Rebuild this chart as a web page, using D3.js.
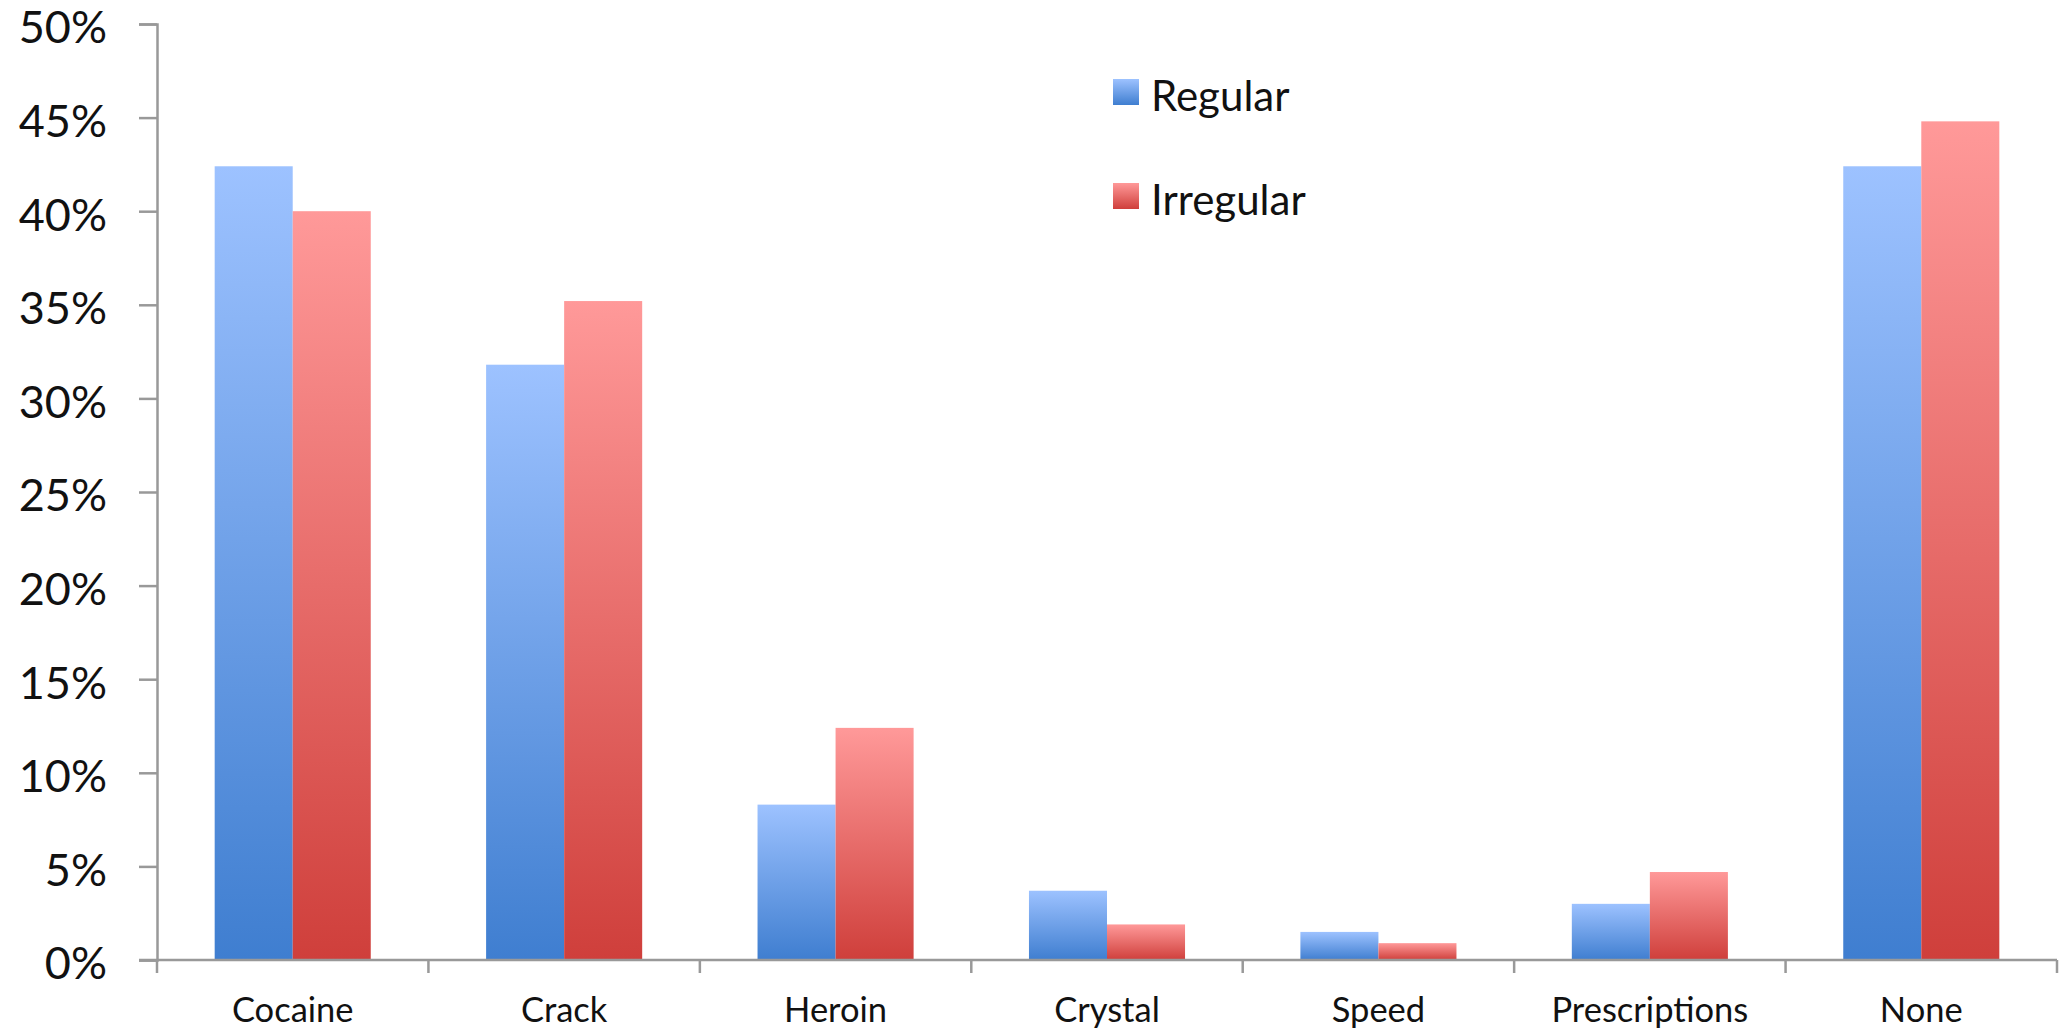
<!DOCTYPE html>
<html>
<head>
<meta charset="utf-8">
<script src="https://cdn.jsdelivr.net/npm/d3@7"></script>
<style>
  html, body { margin: 0; padding: 0; background: #ffffff; }
  svg { display: block; }
  text { font-family: Lato, "Open Sans", sans-serif; fill: #111; }
</style>
</head>
<body>
<svg id="chart" width="2061" height="1029"></svg>
<script>
const categories = ["Cocaine", "Crack", "Heroin", "Crystal", "Speed", "Prescriptions", "None"];
const seriesNames = ["Regular", "Irregular"];
const regular = [42.4, 31.8, 8.3, 3.7, 1.5, 3.0, 42.4];
const irregular = [40.0, 35.2, 12.4, 1.9, 0.9, 4.7, 44.8];
const yTicks = [0, 5, 10, 15, 20, 25, 30, 35, 40, 45, 50];

const svg = d3.select("#chart");
const margin = { left: 157, right: 2057, top: 24, bottom: 960 };

const x = d3.scaleBand().domain(categories).range([margin.left, margin.right])
  .paddingInner(0.425).paddingOuter(0.2125);
const xSub = d3.scaleBand().domain(seriesNames).range([0, x.bandwidth()]);
const y = d3.scaleLinear().domain([0, 50]).range([margin.bottom, margin.top]);

const defs = svg.append("defs");
const grads = {
  Regular: ["#9dc2ff", "#3f7ed0"],
  Irregular: ["#ff9999", "#cf3f3b"]
};
Object.entries(grads).forEach(([name, c]) => {
  const g = defs.append("linearGradient").attr("id", "g-" + name)
    .attr("x1", 0).attr("y1", 0).attr("x2", 0).attr("y2", 1);
  g.append("stop").attr("offset", "0%").attr("stop-color", c[0]);
  g.append("stop").attr("offset", "100%").attr("stop-color", c[1]);
});

const data = categories.map((c, i) => ({ cat: c, vals: [
  { s: "Regular", v: regular[i] }, { s: "Irregular", v: irregular[i] }
]}));

// bars
const groups = svg.append("g").selectAll("g").data(data).join("g")
  .attr("transform", d => `translate(${x(d.cat)},0)`);
groups.selectAll("rect").data(d => d.vals).join("rect")
  .attr("x", d => xSub(d.s))
  .attr("width", xSub.bandwidth())
  .attr("y", d => y(d.v))
  .attr("height", d => y(0) - y(d.v))
  .attr("fill", d => `url(#g-${d.s})`);

// y axis
const yAxis = d3.axisLeft(y).tickValues(yTicks).tickFormat(d => d + "%").tickSize(18).tickPadding(32);
const yg = svg.append("g").attr("transform", `translate(${margin.left},0)`).call(yAxis);
yg.select(".domain").attr("stroke", "#999").attr("stroke-width", 2.5);
yg.selectAll(".tick line").attr("stroke", "#999").attr("stroke-width", 2.5);
yg.selectAll(".tick text").attr("font-size", 45).attr("dy", "0.42em")
  .style("font-family", "Lato, 'Open Sans', sans-serif").attr("fill", "#111");

// x axis
const xg = svg.append("g").attr("transform", `translate(0,${margin.bottom})`);
xg.append("line").attr("x1", margin.left - 18).attr("x2", margin.right)
  .attr("y1", 0).attr("y2", 0).attr("stroke", "#999").attr("stroke-width", 2.5);
const bounds = categories.map(c => x(c) - x.step() * x.paddingInner() / 2);
bounds.push(margin.right);
xg.selectAll("line.xt").data(bounds).join("line").attr("class", "xt")
  .attr("x1", d => d).attr("x2", d => d).attr("y1", 0).attr("y2", 13)
  .attr("stroke", "#999").attr("stroke-width", 2.5);
xg.selectAll("text").data(categories).join("text")
  .attr("x", d => x(d) + x.bandwidth() / 2)
  .attr("y", 62)
  .attr("text-anchor", "middle")
  .attr("font-size", 34.5)
  .text(d => d);

// legend
const legend = svg.append("g");
const legendY = [79, 183];
seriesNames.forEach((s, i) => {
  legend.append("rect").attr("x", 1113).attr("y", legendY[i]).attr("width", 26).attr("height", 26)
    .attr("fill", `url(#g-${s})`);
  legend.append("text").attr("x", 1151).attr("y", legendY[i] + 32)
    .attr("font-size", 42).text(s);
});
</script>
</body>
</html>
